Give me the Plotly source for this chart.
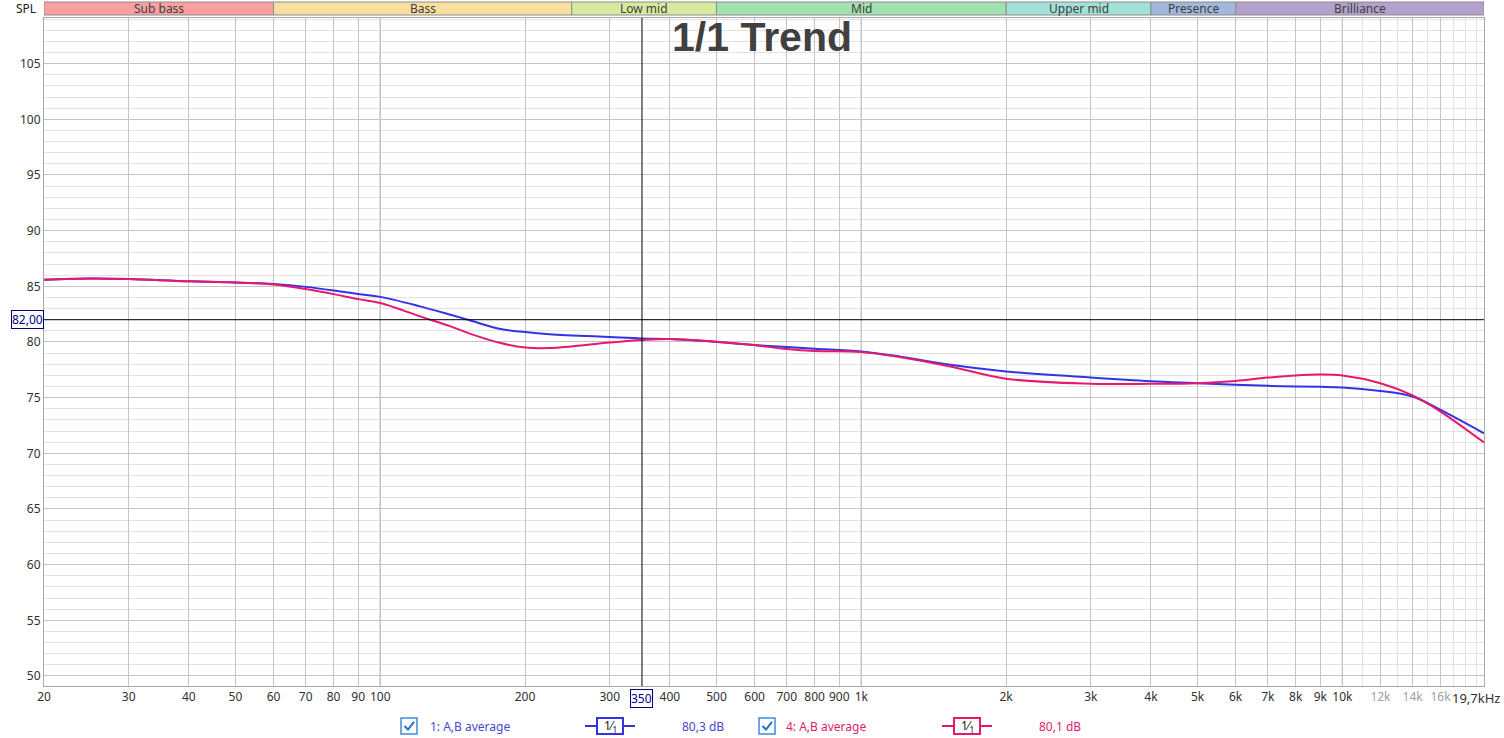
import math
import plotly.graph_objects as go

# ---------------- data ----------------
freq_blue = [20, 25, 30, 40, 50, 60, 70, 80, 90, 100, 121, 140, 154, 178, 200, 225, 300, 350, 400, 500,
             590, 700, 800, 1000, 1200, 1530, 2000, 3000, 4000, 5000, 6000, 7000, 8000, 9000, 10000,
             12000, 14000, 16000, 19700]
spl_blue = [85.6, 85.7, 85.65, 85.45, 85.35, 85.2, 84.95, 84.63, 84.3, 84.05, 83.2, 82.45, 81.93, 81.16, 80.89, 80.7,
            80.44, 80.31, 80.26, 80.0, 79.75, 79.54, 79.39, 79.15, 78.7, 77.95, 77.35, 76.8, 76.47, 76.3, 76.15,
            76.06, 76.0, 75.97, 75.92, 75.6, 75.1, 73.9, 71.8]

freq_red = [20, 25, 30, 40, 50, 60, 70, 80, 90, 100, 121, 140, 154, 178, 200, 225, 300, 350, 400, 500,
            590, 700, 800, 1000, 1200, 1530, 2000, 3000, 4000, 5000, 6000, 7000, 8000, 9000, 10000,
            12000, 14000, 16000, 19700]
spl_red = [85.6, 85.7, 85.65, 85.45, 85.35, 85.17, 84.75, 84.3, 83.85, 83.5, 82.3, 81.4, 80.73, 79.9, 79.5, 79.45,
           79.95, 80.17, 80.26, 80.02, 79.75, 79.36, 79.18, 79.1, 78.65, 77.8, 76.7, 76.25, 76.24, 76.3, 76.5,
           76.8, 77.0, 77.07, 76.99, 76.3, 75.2, 73.75, 70.97]

band_names = ["Sub bass", "Bass", "Low mid", "Mid", "Upper mid", "Presence", "Brilliance"]
band_lo = [20, 60, 250, 500, 2000, 4000, 6000]
band_hi = [60, 250, 500, 2000, 4000, 6000, 19700]
band_colors = ["#F8A0A0", "#F8DFA0", "#D8E9A0", "#A2E2AE", "#A2E0D8", "#A2B6DE", "#B4A0CC"]

x_tickvals = [20, 30, 40, 50, 60, 70, 80, 90, 100, 200, 300, 400, 500, 600, 700, 800, 900, 1000,
              2000, 3000, 4000, 5000, 6000, 7000, 8000, 9000, 10000, 12000, 14000, 16000]
x_ticktext = ["20", "30", "40", "50", "60", "70", "80", "90", "100", "200", "300", "400", "500", "600", "700",
              "800", "900", "1k", "2k", "3k", "4k", "5k", "6k", "7k", "8k", "9k", "10k",
              "<span style='color:#A0A0A0'>12k</span>", "<span style='color:#A0A0A0'>14k</span>",
              "<span style='color:#A0A0A0'>16k</span>"]
x_end_label = "19,7kHz"
x_minor = [11000, 12000, 13000, 14000, 15000, 16000, 17000, 18000, 19000]
x_major_dark = [100, 1000, 10000]

y_tickvals = [50, 55, 60, 65, 70, 75, 80, 85, 90, 95, 100, 105]

cursor_freq = 350
cursor_spl = 82.0

legend_names = ["1: A,B average", "4: A,B average"]
legend_levels = ["80,3 dB", "80,1 dB"]
line_colors = ["#3333E6", "#E8186C"]
text_colors = ["#4646D2", "#E0206E"]

# ---------------- figure ----------------
W, H = 1504, 738
L, R, T, B = 44, 20, 18, 52
PW, PH = W - L - R, H - T - B

def px(x):
    return (x - L) / PW

def py(y):
    return (H - B - y) / PH

fig = go.Figure()
fig.add_trace(go.Scatter(x=freq_blue, y=spl_blue, mode="lines",
                         line=dict(color=line_colors[0], width=2, shape="spline", smoothing=1.0),
                         name=legend_names[0]))
fig.add_trace(go.Scatter(x=freq_red, y=spl_red, mode="lines",
                         line=dict(color=line_colors[1], width=2, shape="spline", smoothing=1.0),
                         name=legend_names[1]))

shapes = []
annotations = []

# darker decade grid lines
for f in x_major_dark:
    shapes.append(dict(type="line", xref="x", yref="paper", x0=f, x1=f, y0=0, y1=1,
                       line=dict(color="#7C7C7C", width=1), layer="between"))

# cursor lines
shapes.append(dict(type="line", xref="paper", yref="y", x0=0, x1=1, y0=cursor_spl, y1=cursor_spl,
                   line=dict(color="#000000", width=1)))
shapes.append(dict(type="line", xref="x", yref="paper", x0=cursor_freq, x1=cursor_freq, y0=0, y1=1,
                   line=dict(color="#000000", width=1)))

# band bar
for name, lo, hi, col in zip(band_names, band_lo, band_hi, band_colors):
    shapes.append(dict(type="rect", xref="x", yref="paper", x0=lo, x1=hi, y0=py(15), y1=py(2),
                       fillcolor=col, line=dict(color="#8C8C8C", width=1), layer="above"))
    annotations.append(dict(xref="x", yref="paper", x=math.log10(math.sqrt(lo * hi)), y=py(8.5),
                            yanchor="middle", xanchor="center",
                            text=name, showarrow=False, font=dict(size=12, color="#404040",
                                                                   family="Noto Sans")))

annotations.append(dict(xref="paper", yref="paper", x=px(38), y=py(8.5), text="SPL", showarrow=False,
                        xanchor="right", yanchor="middle",
                        font=dict(size=12, color="#202020", family="Noto Sans")))

# title
annotations.append(dict(xref="paper", yref="paper", x=px(762), y=py(37), text="<b>1/1 Trend</b>",
                        xanchor="center", yanchor="middle",
                        showarrow=False, font=dict(size=41, color="#404040", family="Liberation Sans")))

# end-of-axis label
annotations.append(dict(xref="paper", yref="paper", x=px(1502), y=py(698), text=x_end_label,
                        xanchor="right", yanchor="middle", showarrow=False,
                        font=dict(size=13, color="#303030", family="Noto Sans")))

# cursor labels
annotations.append(dict(xref="paper", yref="y", x=px(44), y=cursor_spl, text="82,00", showarrow=False,
                        xanchor="right", yanchor="middle", font=dict(size=12, color="#000080", family="Noto Sans"),
                        bordercolor="#000080", borderwidth=1, borderpad=0, bgcolor="white"))
annotations.append(dict(xref="x", yref="paper", x=math.log10(cursor_freq), y=py(698), text="350",
                        xanchor="center", yanchor="middle",
                        showarrow=False, font=dict(size=12, color="#000080", family="Noto Sans"),
                        bordercolor="#000080", borderwidth=1, borderpad=0, bgcolor="white"))

# legend row
leg_y = 726
leg_items = [(409, 428, 585, 635, 680), (767, 784, 942, 992, 1037)]
for i, (cbx, tx, l0, l1, lvx) in enumerate(leg_items):
    # checkbox
    shapes.append(dict(type="rect", xref="paper", yref="paper", x0=px(cbx - 8), x1=px(cbx + 8),
                       y0=py(leg_y + 8), y1=py(leg_y - 8), line=dict(color="#3C8CDC", width=1.5),
                       fillcolor="white"))
    path = "M {:.5f},{:.5f} L {:.5f},{:.5f} L {:.5f},{:.5f}".format(
        px(cbx - 4.5), py(leg_y), px(cbx - 1), py(leg_y + 3.5), px(cbx + 5), py(leg_y - 4))
    shapes.append(dict(type="path", xref="paper", yref="paper", path=path,
                       line=dict(color="#2070C8", width=2)))
    annotations.append(dict(xref="paper", yref="paper", x=px(tx), y=py(leg_y), text=legend_names[i],
                            showarrow=False, xanchor="left", yanchor="middle",
                            font=dict(size=12, color=text_colors[i], family="Noto Sans")))
    # line symbol
    shapes.append(dict(type="line", xref="paper", yref="paper", x0=px(l0), x1=px(l1),
                       y0=py(leg_y), y1=py(leg_y), line=dict(color=line_colors[i], width=2)))
    shapes.append(dict(type="rect", xref="paper", yref="paper", x0=px(l0 + 12), x1=px(l1 - 12),
                       y0=py(leg_y + 8), y1=py(leg_y - 8), line=dict(color=line_colors[i], width=2),
                       fillcolor="white"))
    annotations.append(dict(xref="paper", yref="paper", x=px((l0 + l1) / 2), y=py(leg_y),
                            text="1⁄<sub>1</sub>", showarrow=False, xanchor="center", yanchor="middle",
                            font=dict(size=12, color="#202020", family="Noto Sans")))
    annotations.append(dict(xref="paper", yref="paper", x=px(lvx), y=py(leg_y), text=legend_levels[i],
                            showarrow=False, xanchor="left", yanchor="middle",
                            font=dict(size=12, color=text_colors[i], family="Noto Sans")))

fig.update_layout(
    width=W, height=H,
    margin=dict(l=L, r=R, t=T, b=B),
    paper_bgcolor="white", plot_bgcolor="white",
    showlegend=False,
    shapes=shapes, annotations=annotations,
    font=dict(family="Noto Sans", size=12, color="#303030"),
    xaxis=dict(type="log", range=[math.log10(20), math.log10(19700)],
               tickvals=x_tickvals, ticktext=x_ticktext, tickangle=0,
               showgrid=True, gridcolor="#C4C4C4", gridwidth=1,
               minor=dict(tickvals=x_minor, showgrid=True, gridcolor="#E2E2E2", ticks=""),
               showline=True, linecolor="#A8A8A8", mirror=True, ticks="", zeroline=False,
               tickfont=dict(size=12, color="#303030")),
    yaxis=dict(range=[49.1, 109.1], tickvals=y_tickvals, showgrid=True, gridcolor="#C4C4C4",
               minor=dict(dtick=1, showgrid=True, gridcolor="#E2E2E2", ticks=""),
               showline=True, linecolor="#A8A8A8", mirror=True, ticks="", zeroline=False,
               tickfont=dict(size=12, color="#303030")),
)

fig.write_html("out.html", config={"displayModeBar": False},
               post_script="document.body.style.margin='0';document.body.style.overflow='hidden';")
